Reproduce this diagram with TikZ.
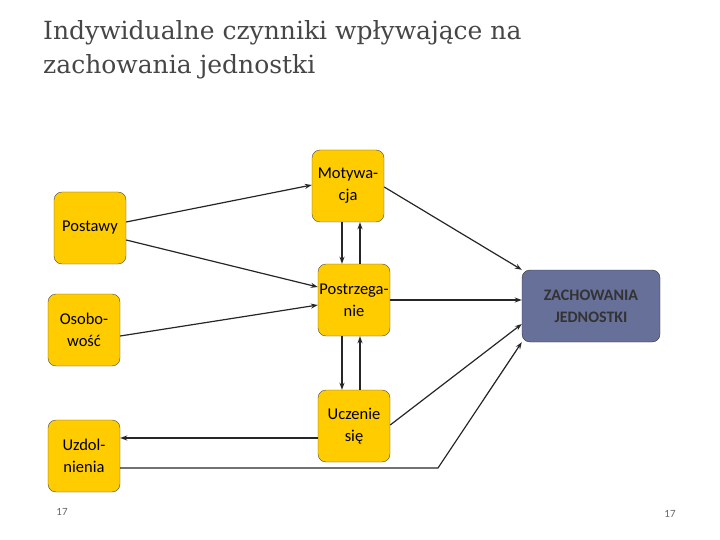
\documentclass[tikz,border=0pt]{standalone}
\usepackage{fontspec}
\setmainfont{Carlito}
\newfontfamily\titlefont{DejaVu Serif}
\usetikzlibrary{arrows.meta}
\definecolor{boxy}{RGB}{255,204,0}
\definecolor{boxb}{RGB}{102,112,153}
\definecolor{titleg}{RGB}{70,70,70}
\begin{document}
\begin{tikzpicture}[x=1pt,y=-1pt,
  ybox/.style={draw=black!70,fill=boxy,rounded corners=8pt,minimum width=72pt,minimum height=72pt,inner sep=1pt,align=center,font=\fontsize{16.5}{22}\selectfont},
  conn/.style={draw=black!85,line width=1.2pt,-{Stealth[length=7pt,width=5pt]}}]
\useasboundingbox (0,0) rectangle (720,540);
\node[anchor=north west,align=left,text=titleg,font=\titlefont\fontsize{25}{34}\selectfont,inner sep=0] (title) at (43,20) {Indywidualne czynniki wpływające na\\zachowania jednostki};
\node[ybox] (pos) at (90,228) {Postawy};
\node[ybox] (oso) at (84,330) {Osobo-\\wość};
\node[ybox] (uzd) at (84,456) {Uzdol-\\nienia};
\node[ybox] (mot) at (348,186) {Motywa-\\cja};
\node[ybox] (prz) at (354,300) {Postrzega-\\nie};
\node[ybox] (ucz) at (354,426) {Uczenie\\się};
\node[draw=black!80,fill=boxb,rounded corners=8pt,minimum width=138pt,minimum height=72pt,align=center,font=\bfseries\fontsize{16}{22}\selectfont,text=black!80] (zach) at (591,306) {ZACHOWANIA\\JEDNOSTKI};
\coordinate (bend) at (438,468);
\draw[conn] (pos.east|-0,222) -- (mot.west|-0,185);
\draw[conn] (pos.east|-0,240) -- (prz.west|-0,287);
\draw[conn] (oso.east|-0,336) -- (prz.west|-0,305);
\draw[conn] (ucz.west|-0,438) -- (uzd.east|-0,438);
\draw[conn] (mot.south-|342,0) -- (prz.north-|342,0);
\draw[conn] (prz.north-|360,0) -- (mot.south-|360,0);
\draw[conn] (prz.south-|342,0) -- (ucz.north-|342,0);
\draw[conn] (ucz.north-|360,0) -- (prz.south-|360,0);
\draw[conn] (mot.east|-0,187) -- (zach.north west);
\draw[conn] (prz.east|-0,300) -- (zach.west|-0,300);
\draw[conn] (ucz.east|-0,425) -- (zach.west|-0,324);
\draw[conn] (uzd.east|-0,468) -- (bend) -- (zach.south west);
\node[text=black!60,font=\fontsize{11}{13}\selectfont] (p1) at (62,512) {17};
\node[text=black!60,font=\fontsize{11}{13}\selectfont] (p2) at (670,514) {17};
\end{tikzpicture}
\end{document}
